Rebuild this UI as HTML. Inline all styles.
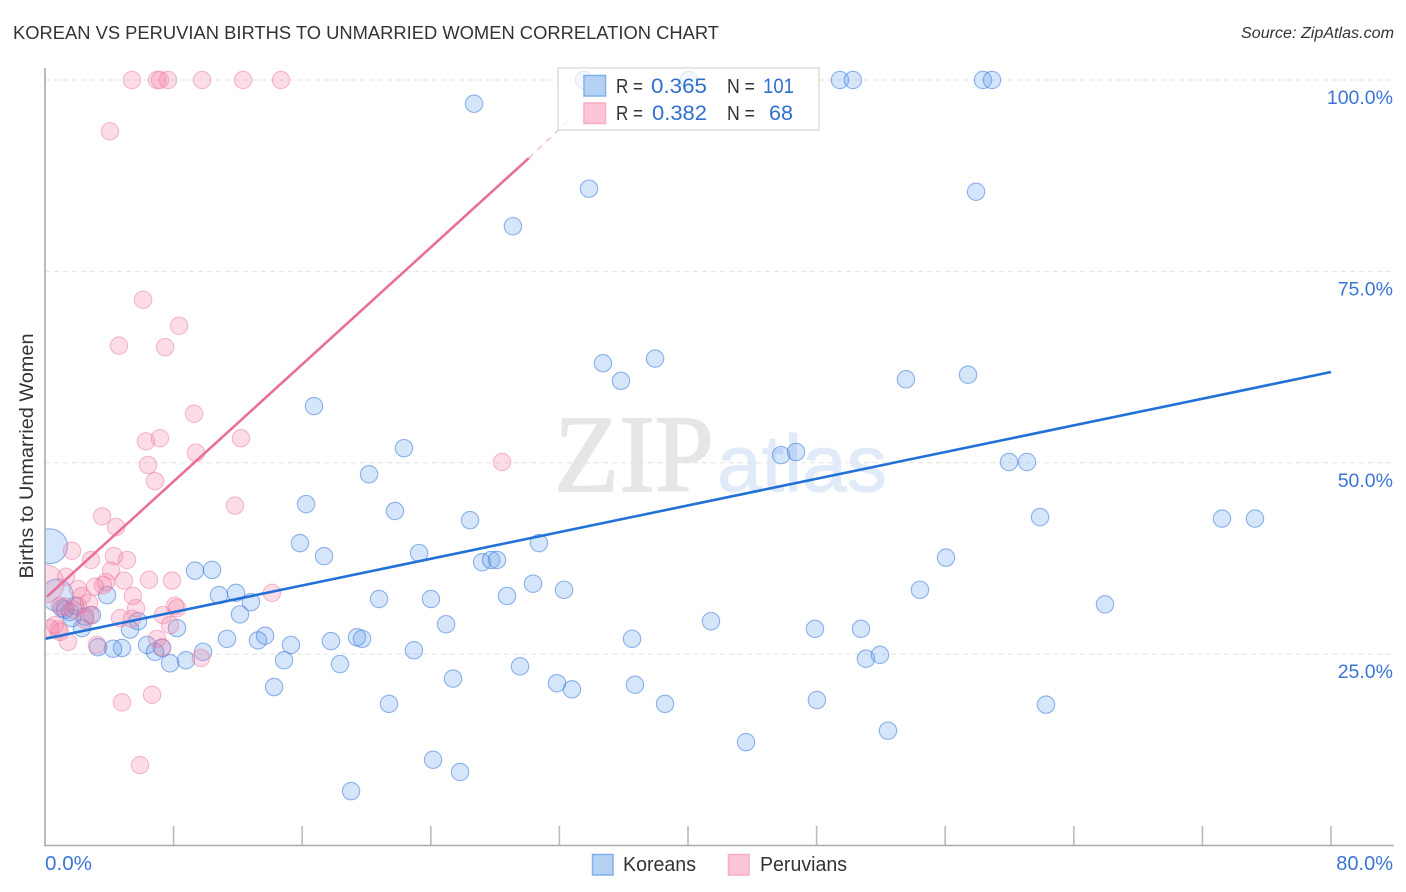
<!DOCTYPE html>
<html lang="en">
<head>
<meta charset="utf-8">
<title>Korean vs Peruvian Births to Unmarried Women Correlation Chart</title>
<style>
html,body{margin:0;padding:0;background:#fff;width:1406px;height:892px;overflow:hidden}
svg{display:block;font-family:"Liberation Sans",sans-serif}
</style>
</head>
<body>
<svg id="chart" width="1406" height="892" viewBox="0 0 1406 892" xmlns="http://www.w3.org/2000/svg">
  <defs>
    <clipPath id="plot-clip"><rect x="45" y="50" width="1361" height="800"/></clipPath>
  </defs>
  <rect x="0" y="0" width="1406" height="892" fill="#fff"/>
  <text x="13" y="39" font-size="18" fill="#333" textLength="706" lengthAdjust="spacingAndGlyphs">KOREAN VS PERUVIAN BIRTHS TO UNMARRIED WOMEN CORRELATION CHART</text>
  <text x="1394" y="38" font-size="15.5" font-style="italic" fill="#333" text-anchor="end" textLength="153" lengthAdjust="spacingAndGlyphs">Source: ZipAtlas.com</text>
  <g>
    <text x="554" y="491" font-family="'Liberation Serif',serif" font-size="110" fill="#e6e6e6" stroke="#e6e6e6" stroke-width="1.5" textLength="160" lengthAdjust="spacingAndGlyphs">ZIP</text>
    <text x="717" y="491" font-family="'Liberation Sans',sans-serif" font-size="80" fill="#e0eaf8" stroke="#e0eaf8" stroke-width="1" textLength="170" lengthAdjust="spacingAndGlyphs">atlas</text>
  </g>
  <g id="grid"></g>
  <g id="pts-blue" clip-path="url(#plot-clip)"></g>
  <g id="pts-pink" clip-path="url(#plot-clip)"></g>
  <g id="lines"></g>
  <g id="axes"></g>
  <text transform="translate(33,456) rotate(-90)" font-size="19.5" fill="#333" text-anchor="middle" textLength="245" lengthAdjust="spacingAndGlyphs">Births to Unmarried Women</text>

  <g>
    <rect x="558" y="68" width="261" height="62" fill="#fff" fill-opacity="0.72" stroke="#ddd" stroke-width="1.5"/>
    <rect x="584" y="75.500" width="21.500" height="20.500" fill="#b5d2f5" stroke="#7fb0ea" stroke-width="1.500"/>
    <rect x="584" y="103" width="21.500" height="20.500" fill="#fcc6d6" stroke="#f5aec5" stroke-width="1.500"/>
    <text x="616" y="93" font-size="20" fill="#333" textLength="27" lengthAdjust="spacingAndGlyphs">R =</text>
    <text x="651" y="93" font-size="21" fill="#2f6fce" textLength="56" lengthAdjust="spacingAndGlyphs">0.365</text>
    <text x="727" y="93" font-size="20" fill="#333" textLength="28" lengthAdjust="spacingAndGlyphs">N =</text>
    <text x="763" y="93" font-size="21" fill="#2f6fce" textLength="31" lengthAdjust="spacingAndGlyphs">101</text>
    <text x="616" y="120" font-size="20" fill="#333" textLength="27" lengthAdjust="spacingAndGlyphs">R =</text>
    <text x="652" y="120" font-size="21" fill="#2f6fce" textLength="55" lengthAdjust="spacingAndGlyphs">0.382</text>
    <text x="727" y="120" font-size="20" fill="#333" textLength="28" lengthAdjust="spacingAndGlyphs">N =</text>
    <text x="769" y="120" font-size="21" fill="#2f6fce" textLength="24" lengthAdjust="spacingAndGlyphs">68</text>
  </g>

  <g>
    <rect x="592.500" y="854.500" width="20.500" height="20.500" fill="#b5d2f5" stroke="#7fb0ea" stroke-width="1.500"/>
    <text x="623" y="871" font-size="20" fill="#333" textLength="73" lengthAdjust="spacingAndGlyphs">Koreans</text>
    <rect x="728.500" y="854.500" width="20.500" height="20.500" fill="#fcc6d6" stroke="#f5aec5" stroke-width="1.500"/>
    <text x="760" y="871" font-size="20" fill="#333" textLength="87" lengthAdjust="spacingAndGlyphs">Peruvians</text>
  </g>
</svg>
<script>
// ---- Data (percent units) ----
const koreanX = [33.53,40.06,49.45,50.26,58.35,58.91,26.69,33.84,57.92,29.11,34.71,35.83,37.95,53.56,57.42,16.73,22.33,20.16,45.79,46.72,59.97,61.09,16.24,21.77,26.44,61.90,73.22,75.27,15.86,17.36,23.27,30.73,27.19,27.75,28.12,56.05,9.33,10.39,30.36,32.29,10.82,11.88,12.81,12.13,20.78,24.01,28.74,54.43,65.94,3.86,24.95,41.43,47.90,50.76,5.79,5.29,8.21,2.30,11.32,13.25,13.69,15.30,17.79,19.41,19.72,36.52,9.83,6.35,7.28,6.84,4.79,4.23,3.30,22.95,14.87,7.78,8.77,18.35,51.07,51.94,29.55,25.38,31.85,32.78,36.70,14.25,21.40,38.57,48.02,62.27,52.44,43.61,24.14,25.82,19.04,1.06,1.56,1.87,2.49,2.92,1.24,1.68,0.31,0.75];
const koreanY = [100,100,100,100,100,100,96.9,85.8,85.4,80.9,63.0,60.7,63.6,60.9,61.5,57.4,51.9,48.5,51.0,51.4,50.1,50.1,44.6,43.7,42.5,42.9,42.7,42.7,39.5,37.8,38.2,39.5,37.0,37.3,37.3,37.6,35.9,36.0,34.2,33.4,32.7,33.0,31.8,30.2,32.2,32.2,32.6,33.4,31.5,32.7,28.9,29.3,28.3,28.3,29.3,28.2,28.4,28.4,27.0,26.8,27.4,26.2,26.7,27.2,27.0,27.0,25.3,26.2,25.8,25.3,25.8,25.7,25.9,25.5,24.2,23.8,24.2,23.7,24.4,24.9,23.4,21.8,21.2,20.4,21.0,20.7,18.5,18.5,19.0,18.4,15.0,13.5,11.2,9.6,7.1,31.0,30.5,31.3,29.9,30.1,30.8,29.7,39.1,32.7];
// Relative population weight per point (1 = typical); the last two Korean points are the large ones.
const koreanWeight = koreanX.map((_, i) => i === koreanX.length - 2 ? 4 : i === koreanX.length - 1 ? 3.4 : 1);

const peruvianX = [5.41,6.97,7.15,7.65,9.77,12.32,14.68,4.04,6.10,8.34,4.60,7.47,9.27,6.28,7.15,12.19,9.39,6.41,6.84,28.43,11.82,3.55,4.42,1.68,2.86,4.29,5.10,1.31,4.11,2.05,3.79,3.61,4.91,6.47,7.90,14.12,3.11,5.47,2.30,0.93,5.66,2.05,2.74,8.09,8.21,4.67,7.34,5.41,2.80,7.78,0.62,0.81,0.31,2.49,6.97,1.43,3.23,9.70,7.28,6.66,4.79,5.91,1.24,1.74,0.93,0.0];
const peruvianY = [100,100,100,100,100,100,100,93.3,71.3,67.9,65.3,65.1,56.4,52.8,53.2,53.2,51.3,49.7,47.6,50.1,44.4,43.0,41.6,38.5,37.3,37.8,37.3,35.1,35.9,33.5,34.4,34.0,34.6,34.7,34.6,33.0,33.8,32.6,32.6,31.3,31.0,31.3,31.7,31.3,31.0,29.7,30.1,29.6,30.1,28.8,28.8,28.2,28.4,29.5,27.0,26.6,26.2,24.5,25.9,19.7,18.7,10.5,31.2,30.8,27.9,34.2];
const peruvianWeight = peruvianX.map((_, i) => i === peruvianX.length - 1 ? 4.8 : 1);

const koreanTrendX = [0, 80];
const koreanTrendY = [27.0, 61.85];
const peruvianTrendX = [0.12, 30.1];
const peruvianTrendY = [32.5, 89.8];
const peruvianTrendDashX = [30.1, 32.7];
const peruvianTrendDashY = [89.8, 95.0];

const xTickValues = [0,8,16,24,32,40,48,56,64,72,80];
const yGridValues = [100,75,50,25];
const yTickLabels = ["100.0%","75.0%","50.0%","25.0%"];
const xEndLabels = ["0.0%","80.0%"];

// ---- Axis functions ----
const NS = "http://www.w3.org/2000/svg";
const xScale = v => 45 + v * 16.075;
const yScale = v => 845.5 - v * 7.655;
const radius = w => 8.7 * Math.sqrt(w);

function make(tag, attrs, parent) {
  const el = document.createElementNS(NS, tag);
  for (const k in attrs) el.setAttribute(k, attrs[k]);
  parent.appendChild(el);
  return el;
}

// Gridlines
const gridG = document.getElementById("grid");
yGridValues.forEach((v, i) => {
  const line = make("line", {x1:45, x2:1394, y1:yScale(v), y2:yScale(v), stroke:"#e2e2e2", "stroke-width":1, "stroke-dasharray":"5 4"}, gridG);
  
  
});

// Points
const blueG = document.getElementById("pts-blue");
koreanX.forEach((x, i) => {
  const c = make("circle", {cx:xScale(x), cy:yScale(koreanY[i]), r:radius(koreanWeight[i]), fill:"rgba(100,160,235,0.27)", stroke:"rgba(60,120,215,0.55)", "stroke-width":1.1}, blueG);
  
  
});
const pinkG = document.getElementById("pts-pink");
peruvianX.forEach((x, i) => {
  const c = make("circle", {cx:xScale(x), cy:yScale(peruvianY[i]), r:radius(peruvianWeight[i]), fill:"rgba(245,130,165,0.27)", stroke:"rgba(235,110,150,0.45)", "stroke-width":1.1}, pinkG);
  
  
});

// Trend lines
const linesG = document.getElementById("lines");
const trendBlue = make("line", {x1:xScale(koreanTrendX[0]), y1:yScale(koreanTrendY[0]), x2:xScale(koreanTrendX[1]), y2:yScale(koreanTrendY[1]), stroke:"#2271d6", "stroke-width":2.6}, linesG);


const trendPink = make("line", {x1:xScale(peruvianTrendX[0]), y1:yScale(peruvianTrendY[0]), x2:xScale(peruvianTrendX[1]), y2:yScale(peruvianTrendY[1]), stroke:"#e96f9b", "stroke-width":2.6}, linesG);


const trendDash = make("line", {x1:xScale(peruvianTrendDashX[0]), y1:yScale(peruvianTrendDashY[0]), x2:xScale(peruvianTrendDashX[1]), y2:yScale(peruvianTrendDashY[1]), stroke:"#f0a0bc", "stroke-width":1, "stroke-dasharray":"6 6"}, linesG);



// Axes
const axesG = document.getElementById("axes");
const yAxis = make("line", {x1:45, x2:45, y1:68, y2:846, stroke:"#aaa", "stroke-width":1.6}, axesG);


const xAxis = make("line", {x1:44, x2:1394, y1:845.5, y2:845.5, stroke:"#aaa", "stroke-width":1.6}, axesG);


xTickValues.slice(1).forEach(v => {
  const t = make("line", {x1:xScale(v), x2:xScale(v), y1:826, y2:845, stroke:"#bbb", "stroke-width":1.6}, axesG);
  
  
});
yGridValues.forEach((v, i) => {
  const t = make("text", {x:1393, y:yScale(v) + 24, "font-size":19.5, fill:"#3b76d4", "text-anchor":"end"}, axesG);
  t.textContent = yTickLabels[i];
  
  
});
const xLabelLeft = make("text", {x:45, y:870, "font-size":20, fill:"#3b76d4", textLength:47, lengthAdjust:"spacingAndGlyphs"}, axesG);
xLabelLeft.textContent = xEndLabels[0];


const xLabelRight = make("text", {x:1393, y:870, "font-size":20, fill:"#3b76d4", "text-anchor":"end"}, axesG);
xLabelRight.textContent = xEndLabels[1];


</script>
</body>
</html>
